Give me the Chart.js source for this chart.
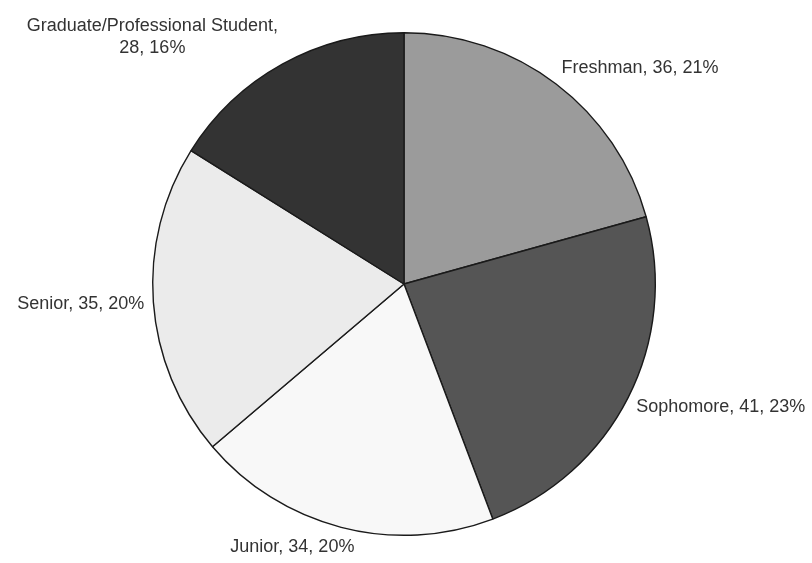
<!DOCTYPE html>
<html>
<head>
<meta charset="utf-8">
<title>Students by class year</title>
<script src="https://cdn.jsdelivr.net/npm/chart.js@4.4.1/dist/chart.umd.min.js"></script>
<style>
  html, body { margin: 0; padding: 0; background: #fff; }
  #wrap { width: 812px; height: 563px; position: relative; }
</style>
</head>
<body>
<div id="wrap"><canvas id="classPie"></canvas></div>
<script>
// class year breakdown
const categories = ["Freshman", "Sophomore", "Junior", "Senior", "Graduate/Professional Student"];
const counts = [36, 41, 34, 35, 28];
const percents = [21, 23, 20, 20, 16];
const sliceColors = ["#9b9b9b", "#555555", "#f8f8f8", "#ebebeb", "#333333"];

// long category names get the numbers on a second line
const labelLines = categories.map((c, i) => {
  const nums = counts[i] + ", " + percents[i] + "%";
  return c.length > 20 ? [c + ",", nums] : [c + ", " + nums];
});

const clamp = (v) => Math.max(-1, Math.min(1, v));

// draws "name, count, pct%" just outside each slice
const outsideLabels = {
  id: "outsideLabels",
  afterDatasetsDraw(chart) {
    const { ctx } = chart;
    const arcs = chart.getDatasetMeta(0).data;
    const lineH = 22;
    ctx.save();
    ctx.font = "18px 'Liberation Sans', Arial, sans-serif";
    ctx.fillStyle = "#333333";
    ctx.textBaseline = "middle";
    ctx.textAlign = "center";
    arcs.forEach((arc, i) => {
      const { x, y, startAngle, endAngle, outerRadius } = arc.getProps(["x", "y", "startAngle", "endAngle", "outerRadius"], true);
      const mid = (startAngle + endAngle) / 2;
      const dx = Math.cos(mid), dy = Math.sin(mid);
      const ax = x + dx * (outerRadius + 9);
      const ay = y + dy * (outerRadius + 9);
      const lines = labelLines[i];
      const w = Math.max(...lines.map(l => ctx.measureText(l).width));
      const h = lines.length * lineH;
      const left = ax - w * (1 - clamp(dx * 3)) / 2;
      const top = ay - h * (1 - clamp(dy)) / 2;
      lines.forEach((l, k) => {
        ctx.fillText(l, left + w / 2, top + lineH * (k + 0.5));
      });
    });
    ctx.restore();
  }
};

const chart = new Chart(document.getElementById("classPie"), {
  type: "pie",
  data: {
    labels: categories,
    datasets: [{
      data: counts,
      backgroundColor: sliceColors,
      borderColor: "#1a1a1a",
      borderWidth: 1.4,
      hoverOffset: 0
    }]
  },
  options: {
    responsive: true,
    maintainAspectRatio: false,
    animation: false,
    layout: { padding: { top: 32, bottom: 27, left: 0, right: 4 } },
    plugins: {
      legend: { display: false },
      tooltip: { enabled: false }
    }
  },
  plugins: [outsideLabels]
});
</script>
</body>
</html>
